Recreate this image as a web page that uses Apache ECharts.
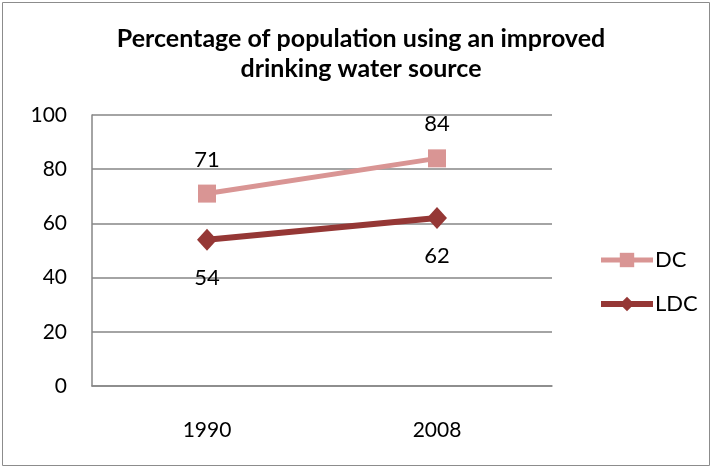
<!DOCTYPE html>
<html><head><meta charset="utf-8">
<script src="https://cdn.jsdelivr.net/npm/echarts@6/dist/echarts.min.js"></script>
<style>html,body{margin:0;padding:0;background:#fff}#c{width:713px;height:468px}</style>
</head><body><div id="c"></div>
<script>
const categories = ['1990', '2008'];
const dcValues = [71, 84];
const ldcValues = [54, 62];
const yTicks = [0, 20, 40, 60, 80, 100];

const font = 'Lato, "Open Sans", sans-serif';
const chart = echarts.init(document.getElementById('c'));
chart.setOption({
  backgroundColor: '#fff',
  animation: false,
  title: {
    text: 'Percentage of population using an improved\ndrinking water source',
    left: 356, textAlign: 'center', top: 19,
    textStyle: { fontFamily: font, fontWeight: 'bold', fontSize: 25, lineHeight: 30, color: '#000' }
  },
  graphic: [{
    type: 'rect', shape: { x: 2.5, y: 2.5, width: 707, height: 463 },
    style: { fill: 'none', stroke: '#8c8c8c', lineWidth: 1 }
  }],
  legend: {
    orient: 'vertical', left: 593, top: 244, itemGap: 22,
    itemWidth: 52, itemHeight: 18,
    textStyle: { fontFamily: font, fontSize: 22, color: '#000', padding: [0, 0, 0, -3] },
    data: [
      { name: 'DC', lineStyle: { width: 5 } },
      { name: 'LDC', lineStyle: { width: 6 } }
    ]
  },
  grid: { left: 92, right: 161, top: 115, bottom: 82 },
  xAxis: {
    type: 'category', data: categories, boundaryGap: true,
    axisLine: { lineStyle: { color: '#868686', width: 1.5 } },
    axisTick: { show: false },
    axisLabel: { fontFamily: font, fontSize: 21, color: '#000', margin: 34 }
  },
  yAxis: {
    type: 'value', min: yTicks[0], max: yTicks[yTicks.length - 1], interval: 20,
    axisLine: { show: true, lineStyle: { color: '#868686', width: 1.5 } },
    axisTick: { show: false },
    splitLine: { lineStyle: { color: '#868686', width: 1.5 } },
    axisLabel: { fontFamily: font, fontSize: 21, color: '#000', margin: 25 }
  },
  series: [{
    name: 'DC', type: 'line', data: dcValues,
    symbol: 'rect', symbolSize: 18,
    lineStyle: { color: '#D99594', width: 5 },
    itemStyle: { color: '#D99594' },
    label: { show: true, position: 'top', distance: 14, fontFamily: font, fontSize: 22, color: '#000' }
  }, {
    name: 'LDC', type: 'line', data: ldcValues,
    symbol: 'diamond', symbolSize: [20, 22],
    lineStyle: { color: '#953735', width: 6 },
    itemStyle: { color: '#953735' },
    label: { show: true, position: 'bottom', distance: 16, fontFamily: font, fontSize: 22, color: '#000' }
  }]
});
</script></body></html>
